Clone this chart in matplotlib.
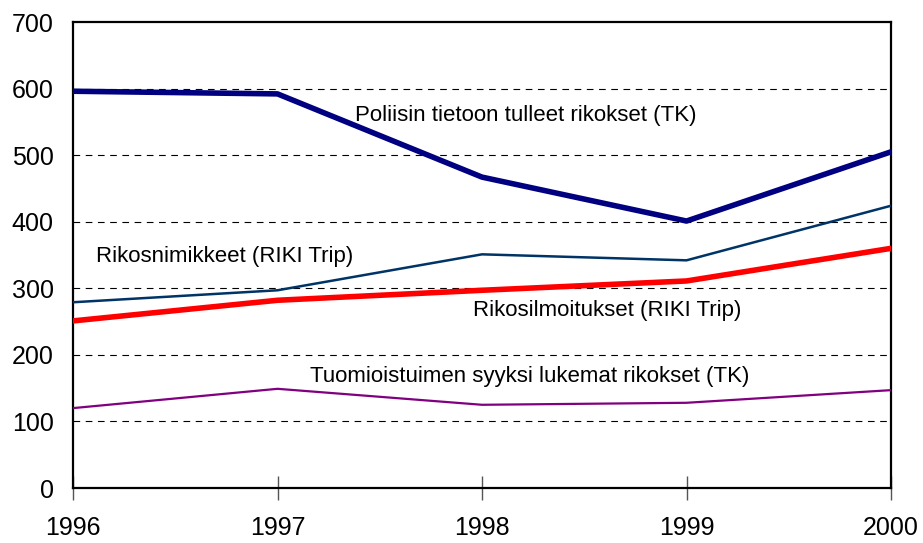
import matplotlib
matplotlib.use("Agg")
import matplotlib.pyplot as plt

years = [1996, 1997, 1998, 1999, 2000]
poliisi = [596, 592, 467, 401, 505]
nimikkeet = [279, 297, 351, 342, 424]
ilmoitukset = [251, 282, 297, 311, 360]
tuomioistuin = [120, 149, 125, 128, 147]

plt.rcParams["font.family"] = ["Liberation Sans", "DejaVu Sans"]

fig = plt.figure(figsize=(9.23, 5.43), dpi=100)
ax = fig.add_axes([73 / 923, 55 / 543, 818 / 923, 466 / 543])

for y in range(100, 700, 100):
    ax.axhline(y, color="k", lw=0.8, ls=(0, (6, 5)), zorder=1)

ax.plot(years, tuomioistuin, color="#800080", lw=1.6, zorder=3)
ax.plot(years, nimikkeet, color="#003366", lw=1.8, zorder=3)
ax.plot(years, ilmoitukset, color="#ff0000", lw=4, zorder=3)
ax.plot(years, poliisi, color="#000080", lw=4, zorder=4)

fs = 16
ax.text(1997.379, 560, "Poliisin tietoon tulleet rikokset (TK)", fontsize=fs, va="center")
ax.text(1996.112, 347, "Rikosnimikkeet (RIKI Trip)", fontsize=fs, va="center")
ax.text(1997.956, 266, "Rikosilmoitukset (RIKI Trip)", fontsize=fs, va="center")
ax.text(1997.159, 167, "Tuomioistuimen syyksi lukemat rikokset (TK)", fontsize=fs, va="center")

ax.set_xlim(1996, 2000)
ax.set_ylim(0, 700)
ax.set_xticks(years)
ax.set_yticks(range(0, 800, 100))
ax.tick_params(axis="x", direction="inout", length=17, width=1, color="#555555",
               labelsize=18, pad=12)
ax.tick_params(axis="y", length=0, labelsize=18, pad=14)
for s in ax.spines.values():
    s.set_linewidth(1.6)

fig.savefig("out.png", dpi=100)
